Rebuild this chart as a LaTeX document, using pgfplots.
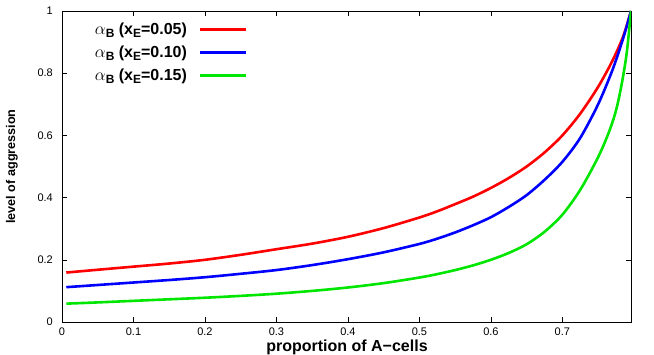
\documentclass[border=0pt]{standalone}
\usepackage{pgfplots}
\pgfplotsset{compat=1.18}
\usepackage{fontspec}
\setmainfont{Liberation Sans}
\pgfplotstableread{
x y
0.006 0.159
0.05 0.168
0.1 0.178
0.15 0.188
0.2 0.200
0.25 0.216
0.3 0.234
0.35 0.252
0.4 0.274
0.45 0.302
0.5 0.336
0.525 0.356
0.55 0.379
0.575 0.403
0.6 0.431
0.625 0.463
0.65 0.500
0.675 0.545
0.7 0.600
0.725 0.670
0.75 0.756
0.77 0.840
0.785 0.918
0.796 1.0
}\red
\pgfplotstableread{
x y
0.006 0.112
0.05 0.119
0.1 0.127
0.15 0.135
0.2 0.144
0.25 0.155
0.3 0.167
0.35 0.183
0.4 0.202
0.45 0.224
0.5 0.251
0.525 0.268
0.55 0.288
0.575 0.311
0.6 0.337
0.625 0.370
0.65 0.408
0.675 0.457
0.7 0.515
0.725 0.592
0.75 0.700
0.77 0.810
0.785 0.912
0.796 1.0
}\blue
\pgfplotstableread{
x y
0.006 0.059
0.05 0.063
0.1 0.068
0.15 0.073
0.2 0.078
0.25 0.084
0.3 0.091
0.35 0.100
0.4 0.111
0.45 0.125
0.5 0.143
0.525 0.154
0.55 0.167
0.575 0.182
0.6 0.200
0.625 0.222
0.65 0.250
0.675 0.290
0.7 0.345
0.725 0.425
0.75 0.530
0.765 0.610
0.775 0.680
0.783 0.765
0.790 0.865
0.796 1.0
}\green
\definecolor{gred}{RGB}{255,0,0}
\definecolor{gblue}{RGB}{0,0,255}
\definecolor{ggreen}{RGB}{0,230,0}
\newcommand{\lab}[1]{$\alpha$\raisebox{-0.35ex}{\fontsize{12}{12}\selectfont\bfseries B} \textbf{(x\raisebox{-0.35ex}{\fontsize{12}{12}\selectfont\bfseries E}=#1)}}
\begin{document}
\begin{tikzpicture}[x=1pt,y=1pt]
\begin{axis}[
  name=ax,
  scale only axis,
  width=569pt, height=311pt,
  xmin=0, xmax=0.796, ymin=0, ymax=1,
  xtick={0,0.1,...,0.7},
  ytick={0,0.2,...,1},
  tick align=inside,
  major tick length=5pt,
  tick style={black, line width=0.4pt},
  axis line style={black, line width=0.9pt},
  /pgf/number format/assume math mode=true,
  tick label style={font=\fontsize{11}{12}\selectfont, inner sep=0pt},
  xticklabel style={yshift=-6pt},
  yticklabel style={xshift=-9pt},
  xlabel={\bfseries proportion of A−cells},
  ylabel={\bfseries level of aggression},
  xlabel style={font=\fontsize{16}{17}\selectfont, inner sep=0pt, at={(axis description cs:0.5,0)}, anchor=base, yshift=-29.5pt, xshift=0.5pt},
  ylabel style={font=\fontsize{12.6}{13}\selectfont, inner sep=0pt, at={(axis description cs:0,0.5)}, anchor=center, yshift=50pt},
  legend plot pos=right,
  legend cell align=right,
  legend style={at={(rel axis cs:0.054,0.969)}, anchor=north west, draw=none, fill=none,
    font=\fontsize{16}{17}\selectfont, row sep=6pt, inner sep=0pt},
  legend image code/.code={\path (0pt,0pt); \draw[#1,line width=2.6pt] (10pt,0pt) -- (56pt,0pt);},
]
\addplot[gred, line width=2.6pt, smooth] table {\red};
\addlegendentry{\lab{0.05}}
\addplot[gblue, line width=2.6pt, smooth] table {\blue};
\addlegendentry{\lab{0.10}}
\addplot[ggreen, line width=2.6pt, smooth] table {\green};
\addlegendentry{\lab{0.15}}
\end{axis}
\pgfresetboundingbox
\path ([xshift=-62pt,yshift=-32pt]ax.south west) rectangle ([xshift=23pt,yshift=11pt]ax.north east);
\end{tikzpicture}
\end{document}
